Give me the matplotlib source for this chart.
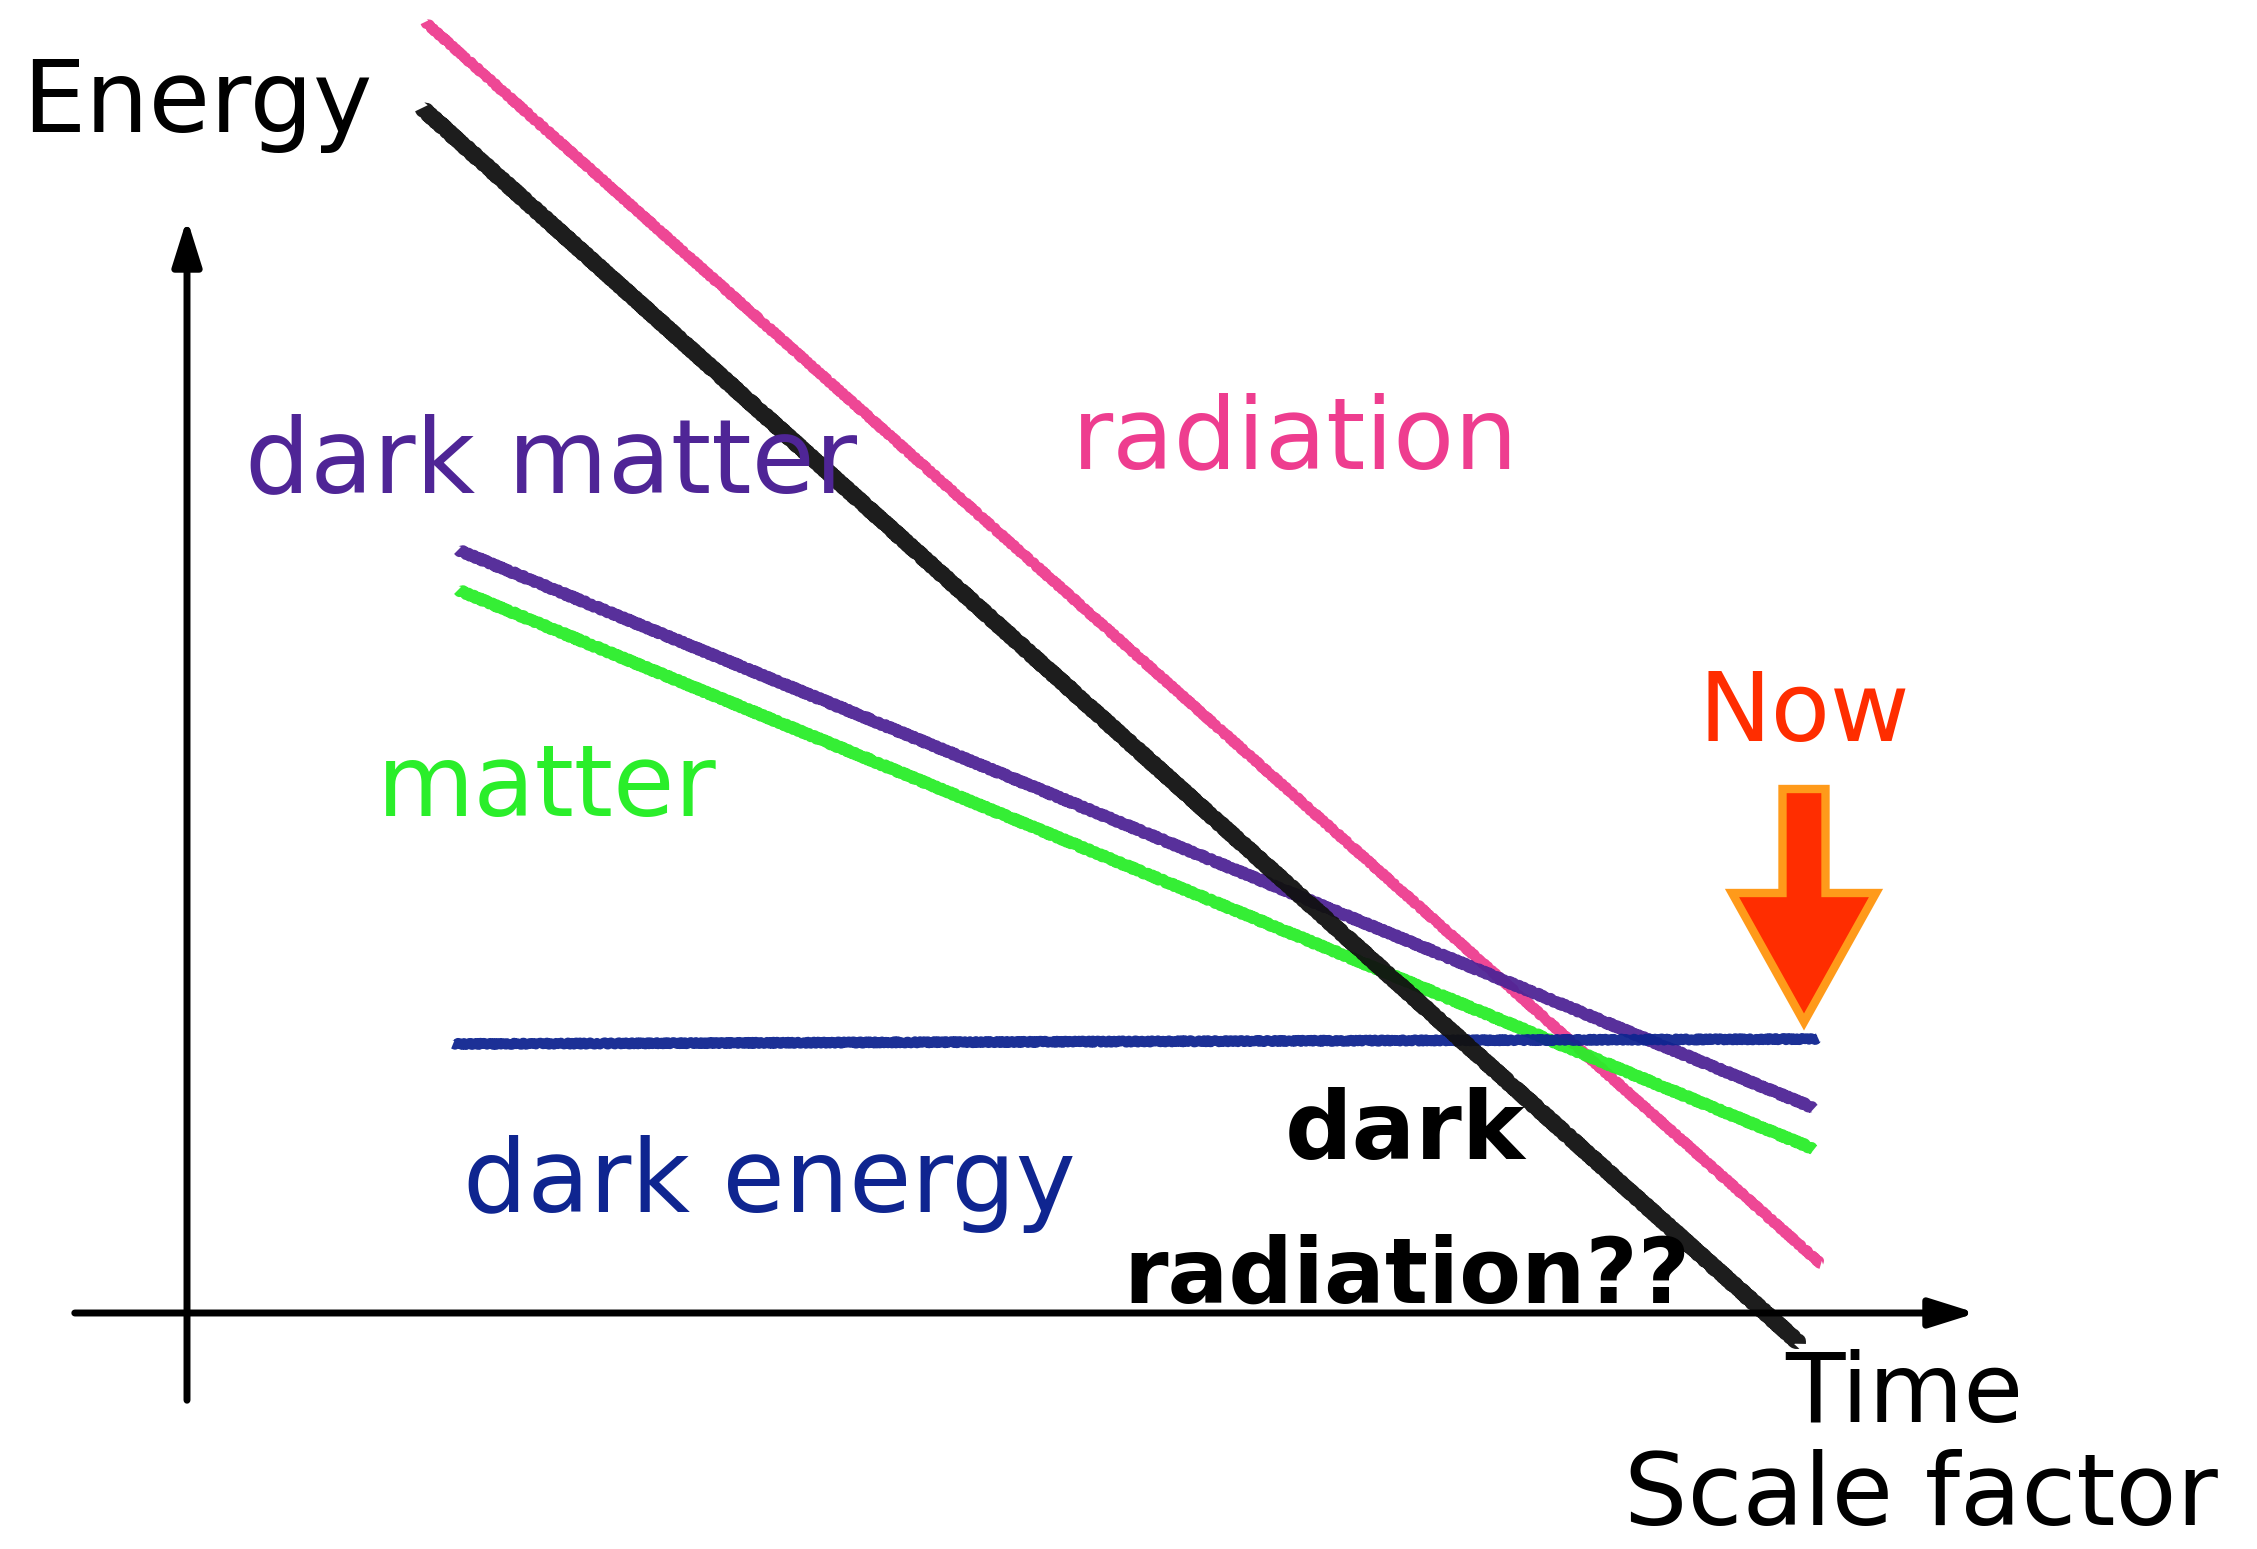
import numpy as np
from matplotlib import pyplot as plt

#Parameters
out_file = 'out.png'
plt.rcParams['font.family'] = ['DejaVu Sans']

# line end points (time, energy), origin where the two axes cross
rad_x = [2.38, 16.34]
rad_y = [12.91, 0.49]
darkrad_x = [2.35, 16.12]
darkrad_y = [12.05, -0.30]
dm_x = [2.71, 16.27]
dm_y = [7.63, 2.05]
matter_x = [2.71, 16.27]
matter_y = [7.23, 1.64]
de_x = [2.66, 16.31]
de_y = [2.69, 2.74]

# "Now" marker (x, top, tip)
now_x = 16.17
now_top = 5.24
now_tip = 2.91

#Colours
c_rad = '#ee3d8f'
c_darkrad = '#111111'
c_dm = '#4f2596'
c_matter = '#2aee2a'
c_de = '#0f2590'
c_now = '#ff2d00'

fig = plt.figure(figsize=(22.57, 15.49), dpi=100)
ax = fig.add_axes([0, 0, 1, 1])
ax.set_xlim(-1.87, 20.70)
ax.set_ylim(-2.36, 13.13)
ax.axis('off')

#Axes arrows
ax.annotate('', xy=(0, 10.97), xytext=(0, -0.90),
            arrowprops=dict(arrowstyle='-|>,head_length=0.7,head_width=0.22',
                            lw=5, color='black', mutation_scale=40))
ax.annotate('', xy=(17.92, 0), xytext=(-1.15, 0),
            arrowprops=dict(arrowstyle='-|>,head_length=0.7,head_width=0.22',
                            lw=5, color='black', mutation_scale=40))

#Crayon-ish lines
lines = [
    (rad_x, rad_y, c_rad, 7),
    (dm_x, dm_y, c_dm, 8),
    (matter_x, matter_y, c_matter, 8),
    (de_x, de_y, c_de, 7),
    (darkrad_x, darkrad_y, c_darkrad, 11),
]
for xs, ys, col, lw in lines:
    ln, = ax.plot(xs, ys, color=col, lw=lw, solid_capstyle='butt', alpha=0.95)
    ln.set_sketch_params(scale=1.2, length=6, randomness=3)

#Now arrow
ax.arrow(now_x, now_top, 0, now_tip - now_top, width=0.43, head_width=1.44,
         head_length=1.29, length_includes_head=True, fc=c_now,
         ec='#ff9a1a', lw=6)

#Labels
fs = 72
ax.text(-1.65, 11.81, 'Energy', color='black', fontsize=fs)
ax.text(0.58, 8.21, 'dark matter', color=c_dm, fontsize=fs + 2)
ax.text(8.85, 8.45, 'radiation', color=c_rad, fontsize=fs)
ax.text(1.90, 4.97, 'matter', color=c_matter, fontsize=fs)
ax.text(15.11, 5.72, 'Now', color=c_now, fontsize=fs - 2)
ax.text(2.76, 1.01, 'dark energy', color=c_de, fontsize=fs + 1)
ax.text(10.98, 1.54, 'dark', color='black', fontsize=68, fontweight='bold')
ax.text(9.36, 0.10, 'radiation??', color='black', fontsize=65, fontweight='bold')
ax.text(15.98, -1.09, 'Time', color='black', fontsize=fs - 2)
ax.text(14.37, -2.12, 'Scale factor', color='black', fontsize=fs)

plt.savefig(out_file, dpi=100)
